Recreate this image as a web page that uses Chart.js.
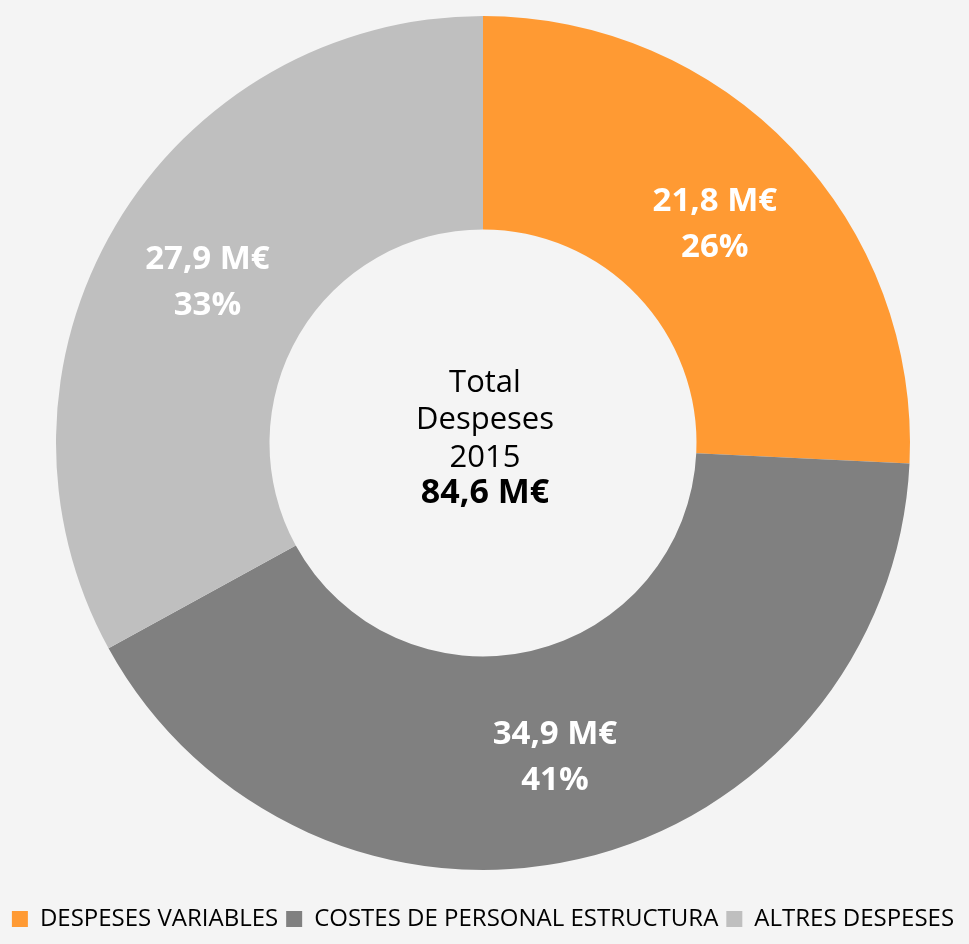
<!DOCTYPE html>
<html><head><meta charset="utf-8">
<script src="https://cdn.jsdelivr.net/npm/chart.js@4/dist/chart.umd.min.js"></script>
<style>html,body{margin:0;padding:0;background:#f4f4f4;overflow:hidden}</style>
</head><body>
<canvas id="c" width="969" height="944"></canvas>
<script>
const categories = ['DESPESES VARIABLES', 'COSTES DE PERSONAL ESTRUCTURA', 'ALTRES DESPESES'];
const values = [21.8, 34.9, 27.9];
const centerLines = ['Total', 'Despeses', '2015'];
const totalLabel = '84,6 M€';
const sliceColors = ['#FF9A33', '#808080', '#BFBFBF'];

const total = values.reduce((a, b) => a + b, 0);
const fmt = v => v.toFixed(1).replace('.', ',') + ' M€';

const sliceLabels = {
  id: 'sliceLabels',
  afterDatasetsDraw(chart) {
    const ctx = chart.ctx;
    const meta = chart.getDatasetMeta(0);
    ctx.save();
    ctx.fillStyle = '#ffffff';
    ctx.font = 'bold 33px "Open Sans"';
    ctx.textAlign = 'center';
    ctx.textBaseline = 'alphabetic';
    meta.data.forEach((arc, i) => {
      const p = arc.tooltipPosition();
      const v = chart.data.datasets[0].data[i];
      ctx.fillText(fmt(v), p.x, p.y - 11);
      ctx.fillText(Math.round(v / total * 100) + '%', p.x, p.y + 35);
    });
    ctx.restore();
  }
};

const centerText = {
  id: 'centerText',
  afterDatasetsDraw(chart) {
    const ctx = chart.ctx;
    const arc = chart.getDatasetMeta(0).data[0];
    const cx = arc.x + 2, cy = arc.y;
    ctx.save();
    ctx.fillStyle = '#000000';
    ctx.textAlign = 'center';
    ctx.textBaseline = 'alphabetic';
    ctx.font = '31px "Open Sans"';
    const offs = [-51, -14, 24];
    centerLines.forEach((t, i) => ctx.fillText(t, cx, cy + offs[i]));
    ctx.font = 'bold 34px "Open Sans"';
    ctx.fillText(totalLabel, cx, cy + 60);
    ctx.restore();
  }
};

new Chart(document.getElementById('c'), {
  type: 'doughnut',
  data: {
    labels: categories,
    datasets: [{
      data: values,
      backgroundColor: sliceColors,
      borderWidth: 0,
      hoverOffset: 0
    }]
  },
  options: {
    responsive: false,
    animation: false,
    cutout: '50%',
    events: [],
    layout: { padding: { top: 16, bottom: 3, left: 0, right: 3 } },
    plugins: {
      tooltip: { enabled: false },
      legend: {
        position: 'bottom',
        title: { display: true, text: ' ', color: 'rgba(0,0,0,0)', font: { size: 23, lineHeight: 1 }, padding: { top: 3, bottom: 3 } },
        labels: {
          boxWidth: 16,
          boxHeight: 16,
          padding: 8,
          color: '#000000',
          font: { family: '"Open Sans"', size: 24 }
        }
      }
    }
  },
  plugins: [sliceLabels, centerText]
});
</script>
</body></html>
